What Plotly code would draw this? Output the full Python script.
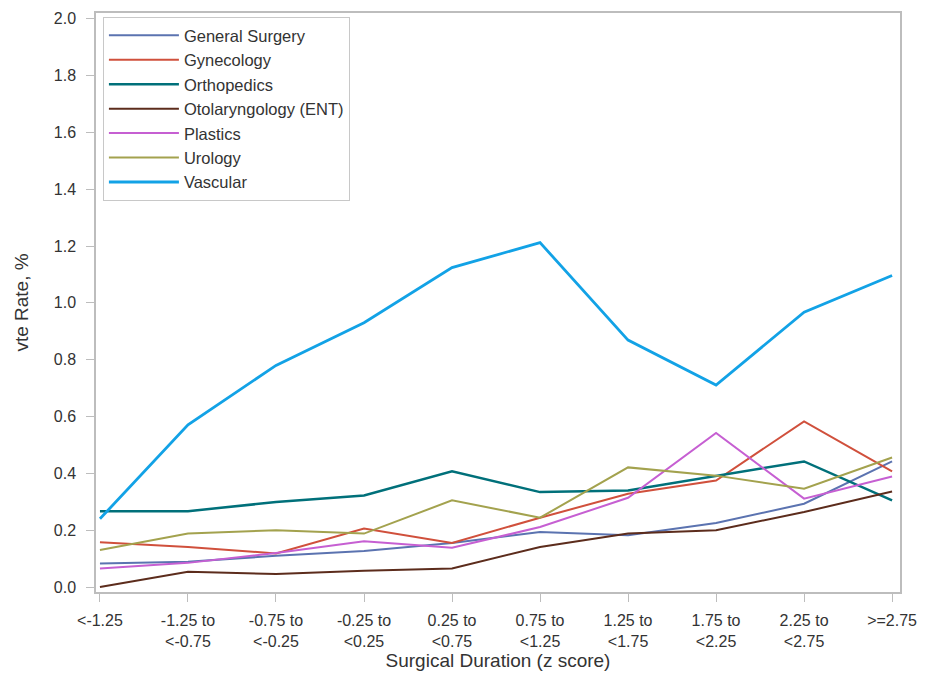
import plotly.graph_objects as go

categories = ["<-1.25", "-1.25 to<br><-0.75", "-0.75 to<br><-0.25", "-0.25 to<br><0.25",
              "0.25 to<br><0.75", "0.75 to<br><1.25", "1.25 to<br><1.75", "1.75 to<br><2.25",
              "2.25 to<br><2.75", ">=2.75"]

general_surgery = [0.083, 0.089, 0.110, 0.127, 0.155, 0.194, 0.182, 0.225, 0.293, 0.442]
gynecology      = [0.158, 0.141, 0.118, 0.206, 0.155, 0.244, 0.328, 0.375, 0.583, 0.407]
orthopedics     = [0.267, 0.267, 0.299, 0.322, 0.407, 0.334, 0.340, 0.392, 0.442, 0.305]
otolaryngology  = [0.000, 0.054, 0.046, 0.057, 0.065, 0.141, 0.188, 0.200, 0.264, 0.336]
plastics        = [0.065, 0.085, 0.120, 0.161, 0.138, 0.211, 0.314, 0.542, 0.311, 0.389]
urology         = [0.130, 0.188, 0.200, 0.188, 0.305, 0.244, 0.421, 0.392, 0.346, 0.456]
vascular        = [0.240, 0.571, 0.780, 0.930, 1.124, 1.212, 0.869, 0.711, 0.967, 1.096]

series = [
    ("General Surgery", general_surgery, "#5b73b0", 2),
    ("Gynecology", gynecology, "#d0503c", 2),
    ("Orthopedics", orthopedics, "#00707a", 2.5),
    ("Otolaryngology (ENT)", otolaryngology, "#5c2c1c", 2),
    ("Plastics", plastics, "#c65fd2", 2),
    ("Urology", urology, "#a3a24e", 2),
    ("Vascular", vascular, "#12a2e6", 2.8),
]

xs = list(range(len(categories)))
fig = go.Figure()
for name, vals, color, w in series:
    fig.add_trace(go.Scatter(x=xs, y=vals, mode="lines", name=name,
                             line=dict(color=color, width=w)))

font = "Liberation Sans, Arial, sans-serif"
fig.update_layout(
    width=927, height=684,
    margin=dict(l=96, r=20, t=10, b=92),
    paper_bgcolor="white", plot_bgcolor="white",
    font=dict(family=font, size=16, color="#333333"),
    showlegend=True,
    legend=dict(x=0.0086, y=0.993, xanchor="left", yanchor="top",
                bordercolor="#c8c8c8", borderwidth=1, bgcolor="white",
                font=dict(size=16.5, color="#333333"), itemwidth=70,
                tracegroupgap=0),
    xaxis=dict(
        range=[-0.045, 9.09], tickmode="array", tickvals=xs, ticktext=categories,
        showgrid=False, zeroline=False, showline=True, mirror=True,
        linecolor="#bdbdbd", linewidth=1.5, ticks="outside", ticklen=8,
        tickcolor="#bdbdbd", tickangle=0, ticklabelstandoff=5,
        tickfont=dict(size=16),
        title=dict(text="Surgical Duration (z score)", font=dict(size=19), standoff=0),
    ),
    yaxis=dict(
        range=[-0.0175, 2.02], tickvals=[0, 0.2, 0.4, 0.6, 0.8, 1.0, 1.2, 1.4, 1.6, 1.8, 2.0],
        tickformat=".1f", showgrid=False, zeroline=False, showline=True, mirror=True,
        linecolor="#bdbdbd", linewidth=1.5, ticks="outside", ticklen=8,
        tickcolor="#bdbdbd", ticklabelstandoff=7,
        tickfont=dict(size=16),
        title=dict(text="vte Rate, %", font=dict(size=19), standoff=20),
    ),
)

fig.write_html("out.html")
